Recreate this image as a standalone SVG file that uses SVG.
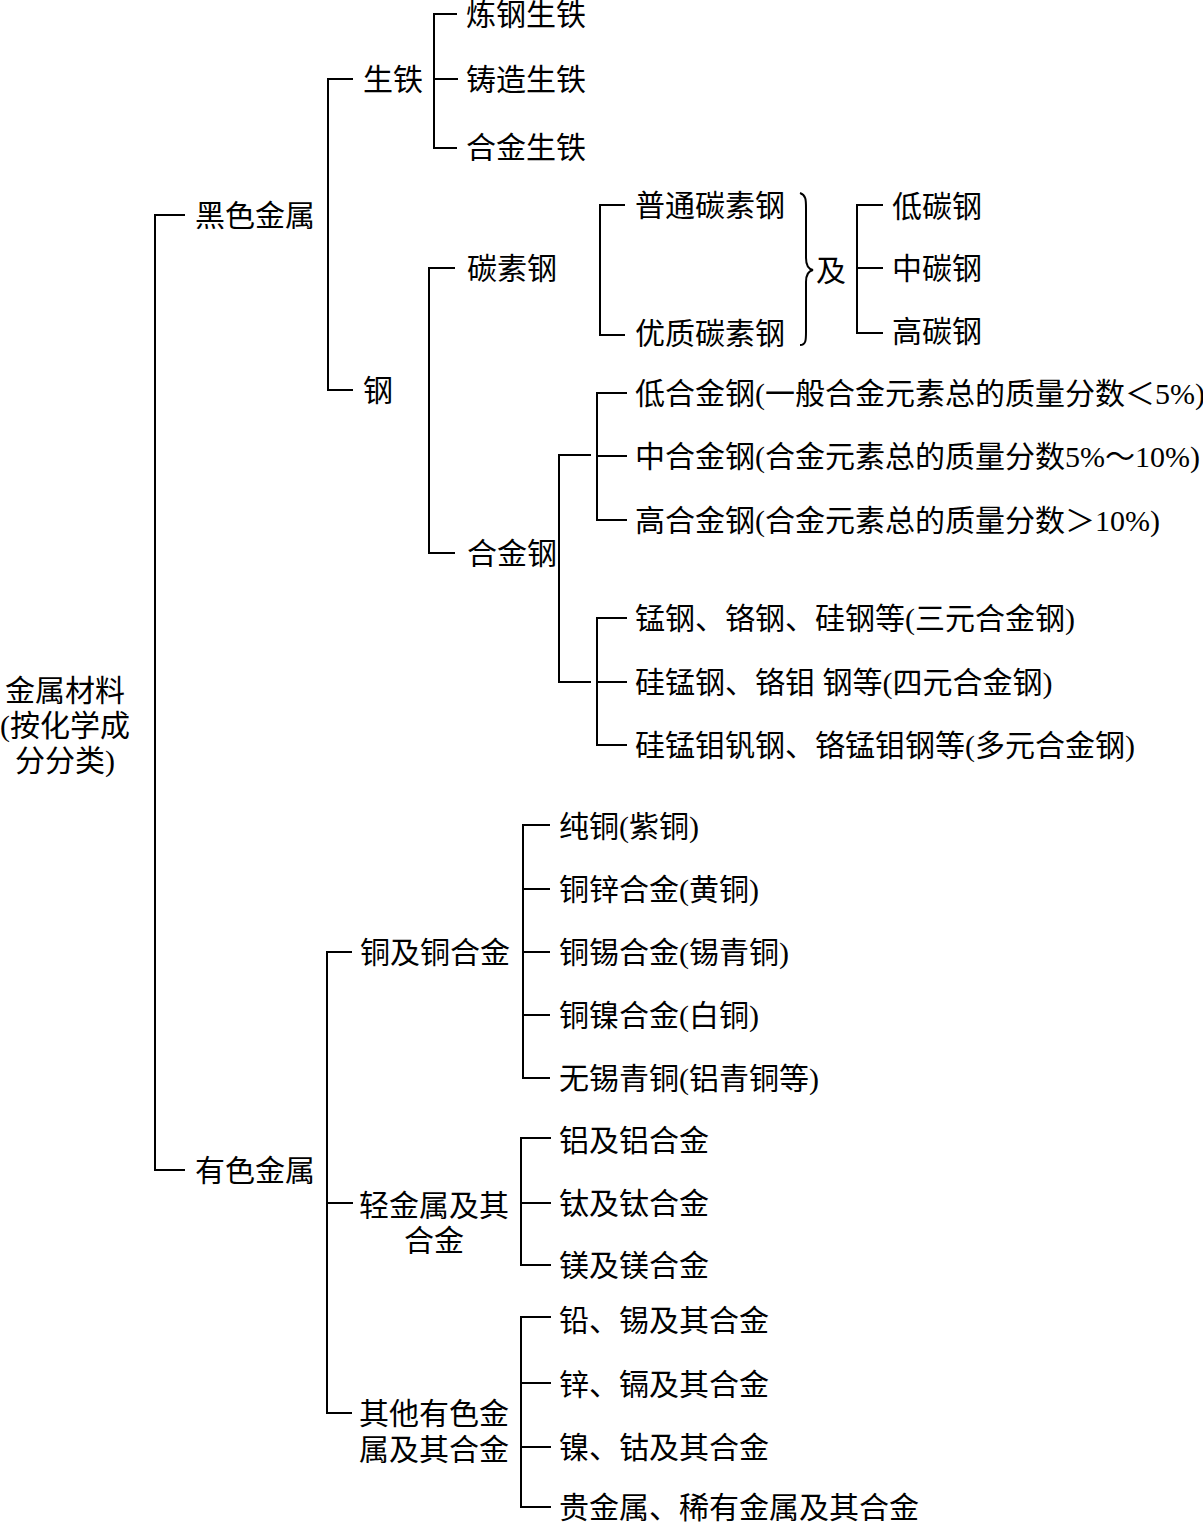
<svg xmlns="http://www.w3.org/2000/svg" width="1203" height="1522" viewBox="0 0 1203 1522">
<style>
text{font-family:"Liberation Serif","Noto Sans CJK SC",serif;font-size:30px;fill:#000;dominant-baseline:central}
.c path{fill:none;stroke:#000;stroke-width:2}
</style>
<rect width="1203" height="1522" fill="#fff"/>
<g class="c" id="connectors">
<path d="M185,215 H155 V1170 H185"/>
<path d="M353,79 H328 V390 H353"/>
<path d="M457,14 H434 V148 H457 M434,79 H458"/>
<path d="M455,268 H429 V553 H455"/>
<path d="M625,205 H600 V335 H625"/>
<path d="M800,193 C806,195 806,200 806,208 V258 C806,265 808,269 813,270 C808,271 806,275 806,282 V332 C806,340 806,345 800,345" stroke-width="1.6"/>
<path d="M883,205 H857 V333 H883 M857,268 H883"/>
<path d="M591,455 H559 V682 H591"/>
<path d="M627,393 H597 V520 H627 M597,456 H627"/>
<path d="M627,618 H597 V745 H627 M597,682 H627"/>
<path d="M352,952 H327 V1413 H352 M327,1203 H353"/>
<path d="M550,825 H523 V1078 H550 M523,889 H550 M523,952 H550 M523,1015 H550"/>
<path d="M551,1138 H521 V1265 H551 M521,1203 H551"/>
<path d="M551,1317 H521 V1507 H551 M521,1383 H551 M521,1447 H551"/>
</g>
<g id="root"><text x="65" y="690" text-anchor="middle">金属材料</text><text x="65" y="725" text-anchor="middle">(按化学成</text><text x="65" y="760" text-anchor="middle">分分类)</text></g>
<g id="ferrous"><text x="195" y="215">黑色金属</text></g>
<g id="nonferrous"><text x="195" y="1170">有色金属</text></g>
<g id="pigiron"><text x="363" y="79">生铁</text></g>
<g id="steel"><text x="363" y="390">钢</text></g>
<g id="pig1"><text x="466" y="14">炼钢生铁</text></g>
<g id="pig2"><text x="466" y="79">铸造生铁</text></g>
<g id="pig3"><text x="466" y="147">合金生铁</text></g>
<g id="carbon"><text x="467" y="268">碳素钢</text></g>
<g id="alloy"><text x="467" y="553">合金钢</text></g>
<g id="c1"><text x="635" y="205">普通碳素钢</text></g>
<g id="c2"><text x="635" y="333">优质碳素钢</text></g>
<g id="and"><text x="816" y="270">及</text></g>
<g id="lc"><text x="892" y="206">低碳钢</text></g>
<g id="mc"><text x="892" y="268">中碳钢</text></g>
<g id="hc"><text x="892" y="331">高碳钢</text></g>
<g id="a1"><text x="635" y="393">低合金钢(一般合金元素总的质量分数＜5%)</text></g>
<g id="a2"><text x="635" y="456">中合金钢(合金元素总的质量分数5%～10%)</text></g>
<g id="a3"><text x="635" y="520">高合金钢(合金元素总的质量分数＞10%)</text></g>
<g id="a4"><text x="635" y="618">锰钢、铬钢、硅钢等(三元合金钢)</text></g>
<g id="a5"><text x="635" y="682">硅锰钢、铬钼 钢等(四元合金钢)</text></g>
<g id="a6"><text x="635" y="745">硅锰钼钒钢、铬锰钼钢等(多元合金钢)</text></g>
<g id="cu"><text x="360" y="952">铜及铜合金</text></g>
<g id="light"><text x="359" y="1205">轻金属及其</text><text x="434" y="1240" text-anchor="middle">合金</text></g>
<g id="other"><text x="359" y="1413">其他有色金</text><text x="359" y="1449">属及其合金</text></g>
<g id="cu1"><text x="559" y="826">纯铜(紫铜)</text></g>
<g id="cu2"><text x="559" y="889">铜锌合金(黄铜)</text></g>
<g id="cu3"><text x="559" y="952">铜锡合金(锡青铜)</text></g>
<g id="cu4"><text x="559" y="1015">铜镍合金(白铜)</text></g>
<g id="cu5"><text x="559" y="1078">无锡青铜(铝青铜等)</text></g>
<g id="l1"><text x="559" y="1140">铝及铝合金</text></g>
<g id="l2"><text x="559" y="1203">钛及钛合金</text></g>
<g id="l3"><text x="559" y="1265">镁及镁合金</text></g>
<g id="o1"><text x="559" y="1320">铅、锡及其合金</text></g>
<g id="o2"><text x="559" y="1384">锌、镉及其合金</text></g>
<g id="o3"><text x="559" y="1447">镍、钴及其合金</text></g>
<g id="o4"><text x="559" y="1507">贵金属、稀有金属及其合金</text></g>
</svg>
